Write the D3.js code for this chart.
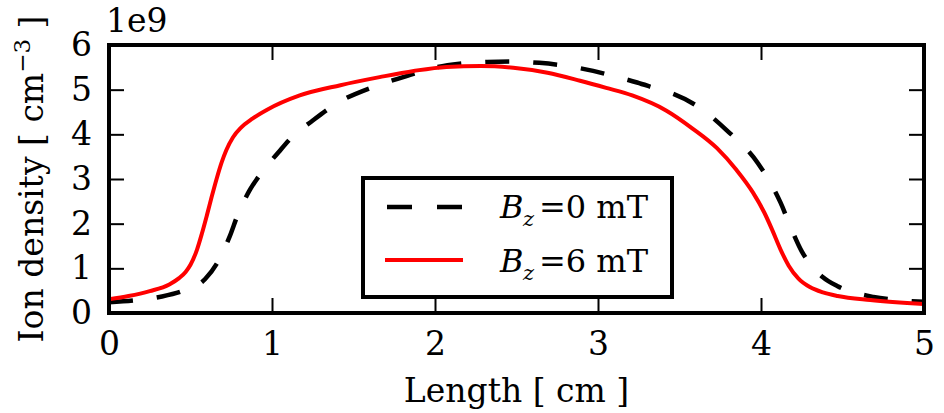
<!DOCTYPE html>
<html>
<head>
<meta charset="utf-8">
<style>
  body { margin: 0; background: #fff; }
  text { font-family: "DejaVu Serif", serif; fill: #000; }
  .tick line { stroke: #000; stroke-width: 2px; }
  .domain { display: none; }
</style>
<script src="https://d3js.org/d3.v7.min.js"></script>
</head>
<body>
<div id="graph"></div>
<script>
// Bz = 0 mT (dashed, black)
var xB0 = [0, 0.15, 0.31, 0.45, 0.59, 0.67, 0.74, 0.79, 0.865, 0.94, 1.04, 1.12, 1.25, 1.40, 1.62, 1.83, 1.97, 2.15, 2.32, 2.48, 2.64, 2.81, 2.97, 3.09, 3.24, 3.36, 3.46, 3.63, 3.79, 3.98, 4.12, 4.19, 4.25, 4.31, 4.38, 4.47, 4.69, 4.84, 5.0];
var yB0 = [0.24, 0.28, 0.36, 0.49, 0.76, 1.16, 1.71, 2.2, 2.76, 3.16, 3.6, 3.93, 4.31, 4.70, 5.06, 5.31, 5.47, 5.58, 5.62, 5.63, 5.6, 5.53, 5.42, 5.31, 5.16, 5.02, 4.91, 4.58, 4.09, 3.36, 2.47, 1.85, 1.38, 1.06, 0.80, 0.6, 0.36, 0.29, 0.25];
// Bz = 6 mT (solid, red)
var xB6 = [0, 0.12, 0.25, 0.37, 0.43, 0.47, 0.50, 0.54, 0.57, 0.60, 0.63, 0.66, 0.69, 0.72, 0.76, 0.81, 0.88, 0.97, 1.17, 1.42, 1.66, 1.87, 2.07, 2.28, 2.48, 2.69, 2.89, 3.05, 3.21, 3.42, 3.58, 3.73, 3.85, 3.95, 4.02, 4.07, 4.12, 4.17, 4.23, 4.30, 4.38, 4.47, 4.67, 5.0];
var yB6 = [0.31, 0.38, 0.49, 0.64, 0.78, 0.92, 1.08, 1.42, 1.78, 2.18, 2.6, 3.0, 3.36, 3.65, 3.93, 4.15, 4.35, 4.55, 4.87, 5.1, 5.28, 5.42, 5.51, 5.53, 5.49, 5.38, 5.2, 5.04, 4.87, 4.53, 4.13, 3.69, 3.2, 2.70, 2.25, 1.85, 1.42, 1.06, 0.77, 0.58, 0.46, 0.38, 0.29, 0.2];

var xTicks = [0, 1, 2, 3, 4, 5];
var yTicks = [0, 1, 2, 3, 4, 5, 6];
var seriesNames = ["0", "6"];

var W = 944, H = 413;
var margin = { top: 45, right: 20, bottom: 100, left: 109 };
var width = W - margin.left - margin.right;
var height = H - margin.top - margin.bottom;

var svg = d3.select("#graph").append("svg")
  .attr("width", W)
  .attr("height", H);

var g = svg.append("g")
  .attr("transform", "translate(" + margin.left + "," + margin.top + ")");

var x = d3.scaleLinear().domain([0, 5]).range([0, width]);
var y = d3.scaleLinear().domain([0, 6]).range([height, 0]);

g.append("clipPath").attr("id", "clip")
  .append("rect").attr("width", width).attr("height", height);

// ticks pointing inward on all four sides
var tl = 15;
g.append("g").attr("class", "x axis")
  .attr("transform", "translate(0," + height + ")")
  .call(d3.axisBottom(x).tickValues(xTicks).tickSize(-tl).tickPadding(19).tickFormat(d3.format("d")))
  .selectAll("text").style("font-size", "33px");
g.append("g").attr("class", "x axis")
  .call(d3.axisTop(x).tickValues(xTicks).tickSize(-tl).tickFormat(""));
g.append("g").attr("class", "y axis")
  .call(d3.axisLeft(y).tickValues(yTicks).tickSize(-tl).tickPadding(17).tickFormat(d3.format("d")))
  .selectAll("text").style("font-size", "33px");
g.append("g").attr("class", "y axis")
  .attr("transform", "translate(" + width + ",0)")
  .call(d3.axisRight(y).tickValues(yTicks).tickSize(-tl).tickFormat(""));

var line = d3.line()
  .x(function(d) { return x(d[0]); })
  .y(function(d) { return y(d[1]); })
  .curve(d3.curveMonotoneX);

var d0 = xB0.map(function(v, i) { return [v, yB0[i]]; });
var d6 = xB6.map(function(v, i) { return [v, yB6[i]]; });

g.append("path").datum(d0)
  .attr("clip-path", "url(#clip)")
  .attr("fill", "none").attr("stroke", "#000").attr("stroke-width", 4.5)
  .attr("stroke-dasharray", "24,24")
  .attr("d", line);
g.append("path").datum(d6)
  .attr("clip-path", "url(#clip)")
  .attr("fill", "none").attr("stroke", "#ff0000").attr("stroke-width", 4)
  .attr("d", line);

// frame
g.append("rect")
  .attr("width", width).attr("height", height)
  .attr("fill", "none").attr("stroke", "#000").attr("stroke-width", 4);

// offset text
svg.append("text").attr("x", 106).attr("y", 32)
  .style("font-size", "33px").text("1e9");

// axis labels
svg.append("text")
  .attr("x", margin.left + width / 2).attr("y", 402)
  .attr("text-anchor", "middle").style("font-size", "33px")
  .text("Length [ cm ]");

var yl = svg.append("text")
  .attr("transform", "translate(43," + (margin.top + height / 2) + ") rotate(-90)")
  .attr("text-anchor", "middle").style("font-size", "33px");
yl.append("tspan").text("Ion density [ cm");
yl.append("tspan").attr("dy", -13).style("font-size", "23px").text("\u22123");
yl.append("tspan").attr("dy", 13).text(" ]");

// legend
var leg = svg.append("g");
leg.append("rect")
  .attr("x", 363).attr("y", 178).attr("width", 309).attr("height", 119)
  .attr("fill", "#fff").attr("stroke", "#000").attr("stroke-width", 4);

var legY = [207, 260];
leg.append("line").attr("x1", 387).attr("x2", 462).attr("y1", legY[0]).attr("y2", legY[0])
  .attr("stroke", "#000").attr("stroke-width", 4.5).attr("stroke-dasharray", "25,25");
leg.append("line").attr("x1", 385).attr("x2", 463).attr("y1", legY[1]).attr("y2", legY[1])
  .attr("stroke", "#ff0000").attr("stroke-width", 4);

var legBase = [218, 272];
seriesNames.forEach(function(s, i) {
  var t = leg.append("text").attr("y", legBase[i]).style("font-size", "32px");
  t.append("tspan").attr("x", 500).style("font-style", "italic").text("B");
  t.append("tspan").attr("x", 523).attr("dy", 8).style("font-style", "italic").style("font-size", "21px").text("z");
  t.append("tspan").attr("x", 539).attr("dy", -8).text("=" + s + " mT");
});
</script>
</body>
</html>
